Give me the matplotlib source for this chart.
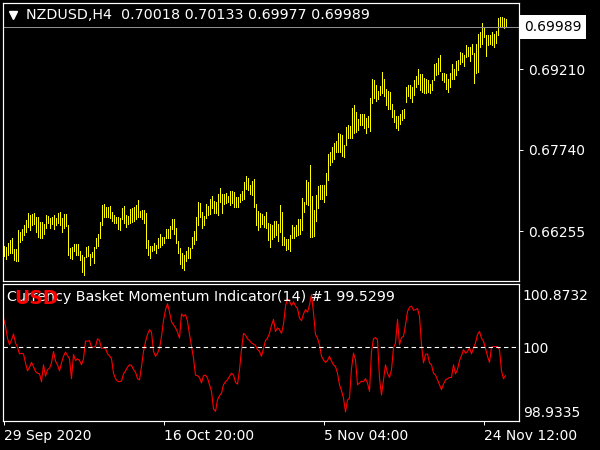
import matplotlib
matplotlib.use('Agg')
import matplotlib.pyplot as plt
import numpy as np

# NZDUSD H4 bars (high / low), one entry per bar, oldest first

highs = [
    0.6598, 0.6596, 0.6604, 0.6609, 0.6612, 0.6593, 0.6592, 0.6627, 0.6624, 0.6629,
    0.6637, 0.6646, 0.6659, 0.6655, 0.6657, 0.6658, 0.6651, 0.6652, 0.6643, 0.6643,
    0.6638, 0.6655, 0.6653, 0.6649, 0.6652, 0.6655, 0.6649, 0.6658, 0.6660, 0.6649,
    0.6657, 0.6657, 0.6637, 0.6594, 0.6597, 0.6602, 0.6602, 0.6602, 0.6590, 0.6582,
    0.6578, 0.6597, 0.6598, 0.6584, 0.6588, 0.6596, 0.6612, 0.6620, 0.6643, 0.6673,
    0.6675, 0.6670, 0.6669, 0.6671, 0.6661, 0.6655, 0.6652, 0.6652, 0.6649, 0.6667,
    0.6671, 0.6655, 0.6653, 0.6665, 0.6667, 0.6669, 0.6673, 0.6683, 0.6663, 0.6664,
    0.6664, 0.6659, 0.6610, 0.6598, 0.6598, 0.6604, 0.6600, 0.6612, 0.6620, 0.6615,
    0.6615, 0.6630, 0.6629, 0.6635,
    0.6647, 0.6647, 0.6632, 0.6607, 0.6594, 0.6585, 0.6582, 0.6589, 0.6597, 0.6594,
    0.6615, 0.6626, 0.6652, 0.6678, 0.6676, 0.6661, 0.6653, 0.6675, 0.6671, 0.6684,
    0.6689, 0.6680, 0.6679, 0.6694, 0.6705, 0.6693, 0.6693, 0.6695, 0.6689, 0.6699,
    0.6699, 0.6697, 0.6688, 0.6687, 0.6694, 0.6699, 0.6716, 0.6726, 0.6723, 0.6709,
    0.6717, 0.6720, 0.6675, 0.6663, 0.6659, 0.6657, 0.6653, 0.6660, 0.6641, 0.6638,
    0.6637, 0.6644, 0.6644, 0.6638, 0.6673, 0.6660, 0.6615, 0.6611, 0.6611, 0.6618,
    0.6637, 0.6633, 0.6637, 0.6647, 0.6647, 0.6686, 0.6679, 0.6719, 0.6715, 0.6746,
    0.6689, 0.6664, 0.6691, 0.6708, 0.6709, 0.6709, 0.6709, 0.6731, 0.6766, 0.6770,
    0.6779, 0.6787, 0.6790, 0.6804, 0.6802,
    0.6801, 0.6783, 0.6816, 0.6819, 0.6817, 0.6851, 0.6855, 0.6843, 0.6831, 0.6840,
    0.6840, 0.6840, 0.6833, 0.6835, 0.6869, 0.6904, 0.6901, 0.6892, 0.6882, 0.6890,
    0.6916, 0.6903, 0.6886, 0.6882, 0.6880, 0.6857, 0.6846, 0.6835, 0.6835, 0.6840,
    0.6846, 0.6849, 0.6888, 0.6892, 0.6892, 0.6888, 0.6901, 0.6908, 0.6921, 0.6913,
    0.6912, 0.6906, 0.6904, 0.6901, 0.6895, 0.6901, 0.6930, 0.6933, 0.6941, 0.6947,
    0.6914, 0.6914, 0.6913, 0.6904, 0.6914, 0.6930, 0.6922, 0.6936, 0.6938, 0.6953,
    0.6951, 0.6947, 0.6965, 0.6962, 0.6962, 0.6968, 0.6951, 0.6968, 0.6986, 0.6989,
    0.7006, 0.6998, 0.6983, 0.6983, 0.6983, 0.6989, 0.6985, 0.6992, 0.7015, 0.7017,
    0.7017, 0.7015, 0.70133,
]

lows = [
    0.6580, 0.6575, 0.6582, 0.6585, 0.6586, 0.6573, 0.6570, 0.6570, 0.6606, 0.6609,
    0.6618, 0.6624, 0.6633, 0.6627, 0.6637, 0.6638, 0.6623, 0.6615, 0.6613, 0.6613,
    0.6621, 0.6632, 0.6640, 0.6632, 0.6638, 0.6630, 0.6637, 0.6641, 0.6637, 0.6623,
    0.6632, 0.6635, 0.6582, 0.6576, 0.6574, 0.6590, 0.6582, 0.6582, 0.6573, 0.6551,
    0.6545, 0.6578, 0.6580, 0.6564, 0.6578, 0.6568, 0.6594, 0.6598, 0.6612, 0.6637,
    0.6652, 0.6652, 0.6652, 0.6649, 0.6644, 0.6641, 0.6641, 0.6630, 0.6627, 0.6647,
    0.6640, 0.6633, 0.6638, 0.6641, 0.6643, 0.6644, 0.6647, 0.6652, 0.6651, 0.6647,
    0.6641, 0.6594, 0.6582, 0.6576, 0.6590, 0.6591, 0.6586, 0.6594, 0.6596, 0.6600,
    0.6603, 0.6612, 0.6612, 0.6612,
    0.6630, 0.6621, 0.6603, 0.6585, 0.6566, 0.6558, 0.6554, 0.6570, 0.6576, 0.6576,
    0.6594, 0.6602, 0.6609, 0.6637, 0.6652, 0.6632, 0.6637, 0.6649, 0.6655, 0.6657,
    0.6667, 0.6659, 0.6659, 0.6655, 0.6679, 0.6659, 0.6675, 0.6676, 0.6678, 0.6673,
    0.6676, 0.6670, 0.6670, 0.6670, 0.6679, 0.6682, 0.6685, 0.6703, 0.6700, 0.6694,
    0.6691, 0.6670, 0.6637, 0.6627, 0.6633, 0.6638, 0.6633, 0.6632, 0.6609, 0.6597,
    0.6611, 0.6615, 0.6618, 0.6608, 0.6624, 0.6600, 0.6600, 0.6591, 0.6593, 0.6589,
    0.6613, 0.6613, 0.6617, 0.6618, 0.6621, 0.6627, 0.6661, 0.6675, 0.6673, 0.6614,
    0.6615, 0.6617, 0.6644, 0.6667, 0.6685, 0.6685, 0.6679, 0.6691, 0.6719, 0.6746,
    0.6752, 0.6758, 0.6770, 0.6770, 0.6770,
    0.6762, 0.6761, 0.6783, 0.6796, 0.6795, 0.6796, 0.6804, 0.6807, 0.6810, 0.6819,
    0.6819, 0.6813, 0.6804, 0.6816, 0.6809, 0.6860, 0.6868, 0.6863, 0.6866, 0.6874,
    0.6878, 0.6872, 0.6855, 0.6849, 0.6848, 0.6834, 0.6825, 0.6814, 0.6811, 0.6822,
    0.6828, 0.6833, 0.6862, 0.6872, 0.6868, 0.6862, 0.6874, 0.6888, 0.6894, 0.6883,
    0.6880, 0.6878, 0.6877, 0.6880, 0.6877, 0.6883, 0.6902, 0.6910, 0.6913, 0.6918,
    0.6901, 0.6898, 0.6886, 0.6880, 0.6889, 0.6904, 0.6904, 0.6910, 0.6919, 0.6931,
    0.6935, 0.6927, 0.6944, 0.6945, 0.6936, 0.6950, 0.6896, 0.6914, 0.6916, 0.6962,
    0.6968, 0.6980, 0.6945, 0.6965, 0.6968, 0.6965, 0.6961, 0.6969, 0.6983, 0.7001,
    0.7001, 0.6997, 0.69977,
]

# Currency Basket Momentum Indicator(14), USD line
momentum = [
    100.48, 100.35, 100.15, 100.04, 100.12, 100.22, 100.07, 100.00, 99.89, 99.90,
    99.89, 99.74, 99.61, 99.67, 99.75, 99.68, 99.60, 99.57, 99.56, 99.43,
    99.71, 99.52, 99.63, 99.65, 99.74, 99.93, 99.77, 99.71, 99.61, 99.74,
    99.85, 99.92, 99.86, 99.81, 99.48, 99.88, 99.78, 99.81, 99.78, 99.71,
    99.81, 100.10, 100.10, 100.11, 100.00, 100.00, 100.01, 100.14, 100.11, 99.98,
    99.99, 99.98, 99.89, 99.86, 99.81, 99.57, 99.48, 99.44, 99.43, 99.44,
    99.56, 99.61, 99.67, 99.71, 99.70, 99.63, 99.59, 99.48, 99.46, 99.68,
    99.93, 100.09, 100.21, 100.29, 100.25, 99.93, 99.85, 99.90, 99.98, 100.18,
    100.44, 100.62, 100.72, 100.58,
    100.42, 100.37, 100.32, 100.25, 100.15, 100.55, 100.51, 100.54, 100.43, 100.21,
    100.01, 99.82, 99.54, 99.53, 99.50, 99.41, 99.53, 99.54, 99.49, 99.38,
    99.27, 98.98, 98.94, 99.13, 99.20, 99.24, 99.38, 99.43, 99.46, 99.52,
    99.57, 99.54, 99.42, 99.39, 99.63, 99.96, 100.23, 100.20, 100.14, 100.11,
    100.07, 100.05, 100.03, 99.96, 99.93, 99.85, 99.98, 100.11, 100.15, 100.23,
    100.36, 100.46, 100.26, 100.32, 100.29, 100.23, 100.38, 100.68, 100.80, 100.76,
    100.69, 100.75, 100.68, 100.64, 100.48, 100.44, 100.55, 100.62, 100.58, 100.70,
    100.87, 100.57, 100.21, 100.15, 100.04, 99.85, 99.79, 99.75, 99.78, 99.85,
    99.77, 99.71,
    99.68, 99.57, 99.38, 99.28, 99.16, 98.93, 99.13, 99.16, 99.65, 99.90,
    99.79, 99.38, 99.41, 99.44, 99.43, 99.48, 99.41, 99.27, 99.93, 100.14,
    100.16, 100.12, 99.49, 99.21, 99.46, 99.71, 99.57, 99.50, 99.63, 99.99,
    100.07, 100.46, 100.04, 100.16, 100.18, 100.37, 100.59, 100.66, 100.68, 100.61,
    100.62, 100.64, 100.51, 100.04, 99.74, 99.88, 99.89, 99.74, 99.71, 99.57,
    99.54, 99.46, 99.38, 99.30, 99.39, 99.46, 99.48, 99.50, 99.50, 99.71,
    99.56, 99.63, 99.78, 99.86, 99.96, 99.90, 99.93, 99.99, 99.89, 99.99,
    100.07, 100.21, 100.26, 100.15, 100.10, 99.98, 99.85, 99.75, 100.00, 100.01,
    100.01, 100.01, 99.96, 99.61, 99.48, 99.53,
]

price_ticks = [0.69210, 0.67740, 0.66255]
last_price = 0.69989
mom_ticks = [100.8732, 100.0, 98.9335]
mom_tick_labels = ['100.8732', '100', '98.9335']
date_bars = [1, 81, 161, 241]
date_labels = ['29 Sep 2020', '16 Oct 20:00', '5 Nov 04:00', '24 Nov 12:00']
title = 'NZDUSD,H4  0.70018 0.70133 0.69977 0.69989'
ind_title = 'Currency Basket Momentum Indicator(14) #1 99.5299'

bars = np.arange(1, len(highs) + 1)

W, H = 600, 450
fig = plt.figure(figsize=(6, 4.5), dpi=100, facecolor='black')

def px_axes(x0, y0, x1, y1):
    return fig.add_axes([x0 / W, 1 - y1 / H, (x1 - x0) / W, (y1 - y0) / H])

def fx(x):
    return x / W

def fy(y):
    return 1 - y / H

PX = 0.72  # one pixel in points

ax = px_axes(2.5, 2.5, 518.5, 281)
ax2 = px_axes(2.5, 283.5, 518.5, 421)

for a in (ax, ax2):
    a.set_facecolor('black')
    for s in a.spines.values():
        s.set_color('white')
        s.set_linewidth(1.2 * PX)
    a.set_xlim(0.5, 258.5)
    a.yaxis.tick_right()
    a.tick_params(colors='white', labelsize=10, width=PX)

# price bars
ax.vlines(bars, lows, highs, color='#ffff00', lw=PX, antialiased=False)
ax.axhline(last_price, color='#909090', lw=PX)
ax.set_ylim(0.65343, 0.70432)
ax.set_yticks(price_ticks)
ax.set_yticklabels(['%.5f' % p for p in price_ticks])
ax.tick_params(axis='y', length=3, pad=4)
ax.set_xticks([])
ax.annotate('%.5f' % last_price, xy=(1, last_price),
            xycoords=('axes fraction', 'data'), xytext=(4, 0),
            textcoords='offset points', va='center', ha='left',
            color='black', fontsize=10,
            bbox=dict(boxstyle='square,pad=0.35', fc='white', ec='none'))
ax.plot(0.021, 0.956, marker='v', color='white', markersize=6,
        transform=ax.transAxes, clip_on=False)
fig.text(fx(26), fy(15), title, color='white', fontsize=10.3, va='center')

# indicator window
ax2.plot(bars, momentum, color='#ff0000', lw=PX * 1.1)
ax2.axhline(100, color='white', lw=PX * 1.1, ls=(0, (4, 3)))
ax2.set_ylim(98.781, 101.053)
ax2.set_yticks(mom_ticks)
ax2.set_yticklabels(mom_tick_labels)
ax2.tick_params(axis='y', length=0, pad=3)
ax2.set_xticks(date_bars)
ax2.set_xticklabels(date_labels, ha='left')
ax2.tick_params(axis='x', length=3, pad=3)
fig.text(fx(7), fy(297), ind_title, color='white', fontsize=10.3, va='center')
fig.text(fx(14), fy(298), 'USD', color='#ff0000', fontsize=13.5,
         fontweight='bold', va='center')

fig.savefig('out.png', dpi=100, facecolor='black')
